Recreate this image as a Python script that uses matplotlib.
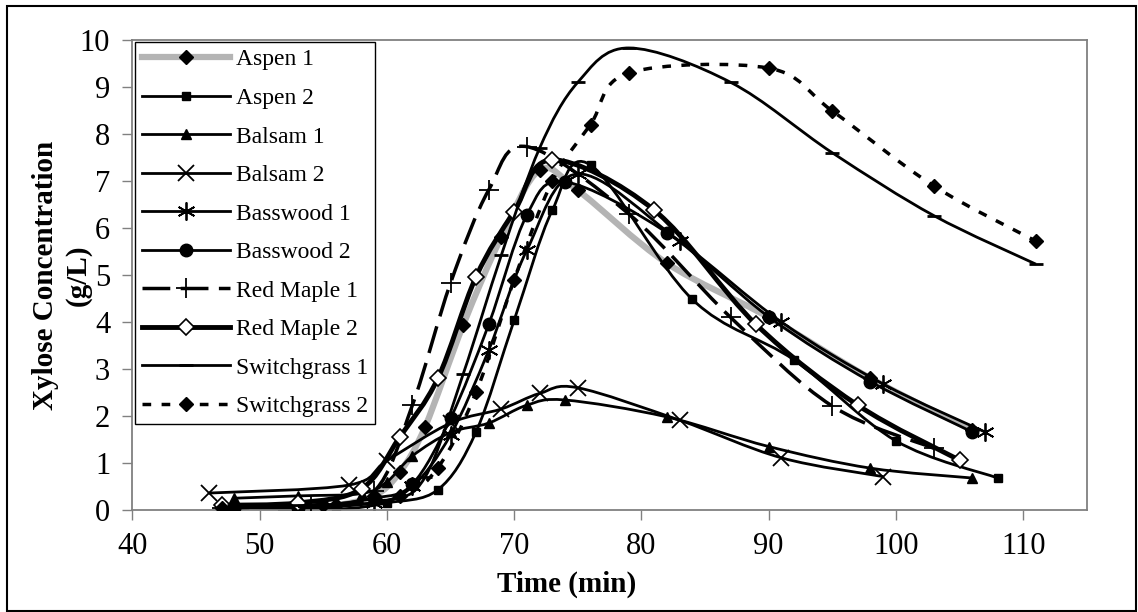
import numpy as np
import matplotlib
matplotlib.use("Agg")
import matplotlib.pyplot as plt
from matplotlib.patches import Rectangle, PathPatch
from matplotlib.path import Path
from matplotlib.lines import Line2D

plt.rcParams['font.family'] = ['Liberation Serif', 'DejaVu Serif']

# xylose concentration (g/L) against time (min)
aspen1_t = [48, 52, 56, 59, 61, 63, 66, 69, 72, 75, 82, 90, 98, 106]
aspen1_c = [0.05, 0.0, 0.1, 0.3, 0.8, 1.77, 3.94, 5.81, 7.23, 6.8, 5.25, 4.1, 2.8, 1.7]

aspen2_t = [48, 56, 60, 64, 67, 70, 73, 76, 84, 92, 100, 108]
aspen2_c = [0.05, 0.02, 0.15, 0.43, 1.66, 4.04, 6.38, 7.34, 4.48, 3.19, 1.47, 0.68]

balsam1_t = [48, 53, 58, 60, 62, 65, 68, 71, 74, 82, 90, 98, 106]
balsam1_c = [0.25, 0.3, 0.35, 0.6, 1.15, 1.65, 1.85, 2.23, 2.34, 1.98, 1.35, 0.89, 0.68]

balsam2_t = [46, 57, 60, 65, 69, 72, 75, 83, 91, 99]
balsam2_c = [0.36, 0.53, 1.05, 1.85, 2.15, 2.48, 2.6, 1.91, 1.11, 0.71]

basswood1_t = [47, 53, 59, 62, 65, 68, 71, 75, 83, 91, 99, 107]
basswood1_c = [0.05, 0.05, 0.15, 0.5, 1.6, 3.4, 5.53, 7.15, 5.72, 4.0, 2.68, 1.66]

basswood2_t = [48, 53, 59, 62, 65, 68, 71, 74, 82, 90, 98, 106]
basswood2_c = [0.05, 0.05, 0.25, 0.55, 1.95, 3.95, 6.28, 6.98, 5.9, 4.11, 2.73, 1.66]

redmaple1_t = [47, 54, 59, 62, 65, 68, 71, 79, 87, 95, 103]
redmaple1_c = [0.05, 0.1, 0.4, 2.23, 4.83, 6.81, 7.73, 6.3, 4.1, 2.21, 1.31]

redmaple2_t = [47, 53, 58, 61, 64, 67, 70, 73, 81, 89, 97, 105]
redmaple2_c = [0.1, 0.15, 0.45, 1.55, 2.8, 4.96, 6.35, 7.45, 6.38, 3.95, 2.23, 1.06]

switch1_t = [48, 54, 60, 63, 66, 69, 72, 75, 79, 87, 95, 103, 111]
switch1_c = [0.1, 0.1, 0.2, 0.7, 2.9, 5.43, 7.7, 9.1, 9.83, 9.1, 7.6, 6.26, 5.23]

switch2_t = [47, 55, 61, 64, 67, 70, 73, 76, 79, 90, 95, 103, 111]
switch2_c = [0.05, 0.1, 0.3, 0.9, 2.5, 4.9, 7.0, 8.2, 9.3, 9.4, 8.49, 6.89, 5.72]

names = ['Aspen 1', 'Aspen 2', 'Balsam 1', 'Balsam 2', 'Basswood 1', 'Basswood 2',
         'Red Maple 1', 'Red Maple 2', 'Switchgrass 1', 'Switchgrass 2']
series = [(aspen1_t, aspen1_c), (aspen2_t, aspen2_c), (balsam1_t, balsam1_c),
          (balsam2_t, balsam2_c), (basswood1_t, basswood1_c), (basswood2_t, basswood2_c),
          (redmaple1_t, redmaple1_c), (redmaple2_t, redmaple2_c),
          (switch1_t, switch1_c), (switch2_t, switch2_c)]

asterisk = (6, 2, 0)
# line style, marker style for each series
line_styles = [
    dict(color='#b4b4b4', lw=4.5, ls='-'),
    dict(color='black', lw=2, ls='-'),
    dict(color='black', lw=2, ls='-'),
    dict(color='black', lw=2, ls='-'),
    dict(color='black', lw=2, ls='-'),
    dict(color='black', lw=2, ls='-'),
    dict(color='black', lw=2.5, ls=(0, (8, 3))),
    dict(color='black', lw=3.5, ls='-'),
    dict(color='black', lw=2, ls='-'),
    dict(color='black', lw=2.5, ls=(0, (2.5, 3))),
]
marker_styles = [
    dict(marker='D', ms=7, mfc='black', mec='black'),
    dict(marker='s', ms=6, mfc='black', mec='black'),
    dict(marker='^', ms=7, mfc='black', mec='black'),
    dict(marker='x', ms=11, mec='black', mew=1.3),
    dict(marker=asterisk, ms=13, mec='black', mew=1.3),
    dict(marker='o', ms=9, mfc='black', mec='black'),
    dict(marker='+', ms=14, mec='black', mew=1.3),
    dict(marker='D', ms=8, mfc='white', mec='black', mew=1.2),
    dict(marker='_', ms=10, mec='black', mew=2),
    dict(marker='D', ms=7, mfc='black', mec='black'),
]


def smooth_path(t, c):
    # Excel-like smoothed line: cubic bezier through every data point
    p = np.column_stack([t, c]).astype(float)
    n = len(p)
    verts = [p[0]]
    codes = [Path.MOVETO]
    for i in range(n - 1):
        prev = p[i - 1] if i > 0 else p[i]
        nxt = p[i + 2] if i + 2 < n else p[i + 1]
        verts += [p[i] + (p[i + 1] - prev) / 6, p[i + 1] - (nxt - p[i]) / 6, p[i + 1]]
        codes += [Path.CURVE4] * 3
    return Path(verts, codes)


fig = plt.figure(figsize=(11.38, 6.12), dpi=100)
ax = fig.add_axes([0.1164, 0.1667, 0.8386, 0.768])

handles = []
for k, ((t, c), name) in enumerate(zip(series, names)):
    ls = line_styles[k]
    ms = marker_styles[k]
    ax.add_patch(PathPatch(smooth_path(t, c), fill=False, edgecolor=ls['color'],
                           lw=ls['lw'], linestyle=ls['ls'], capstyle='butt',
                           zorder=2 + k * 0.1))
    ax.plot(t, c, ls='none', zorder=2.05 + k * 0.1, **ms)
    handles.append(Line2D([], [], color=ls['color'], lw=ls['lw'], linestyle=ls['ls'],
                          label=name, **ms))

ax.set_xlim(40, 115)
ax.set_ylim(0, 10)
ax.set_xticks(np.arange(40, 111, 10))
ax.set_yticks(np.arange(0, 11, 1))
ax.tick_params(direction='out', length=7, width=1, color='#808080', labelsize=22, pad=9)
for s in ax.spines.values():
    s.set_color('#808080')
    s.set_linewidth(1.3)

ax.set_xlabel('Time (min)', fontsize=21, fontweight='bold')
ax.xaxis.set_label_coords(0.455, -0.13)
ax.set_ylabel('Xylose Concentration\n(g/L)', fontsize=21, fontweight='bold',
              linespacing=1.25)
ax.yaxis.set_label_coords(-0.043, 0.5)

leg = ax.legend(handles=handles, loc='upper left', bbox_to_anchor=(0.003, 0.996),
                fontsize=17, handlelength=3.7, labelspacing=0.72, borderpad=0.3,
                handletextpad=0.25, frameon=True, fancybox=False, edgecolor='black',
                framealpha=1, borderaxespad=0)
leg.get_frame().set_linewidth(1.0)
leg.set_zorder(5)

# outer chart border
fig.patches.append(Rectangle((7 / 1138, 1 / 612), 1129 / 1138, 605 / 612,
                             transform=fig.transFigure, fill=False,
                             edgecolor='black', lw=1.5))

fig.savefig('out.png', dpi=100)
